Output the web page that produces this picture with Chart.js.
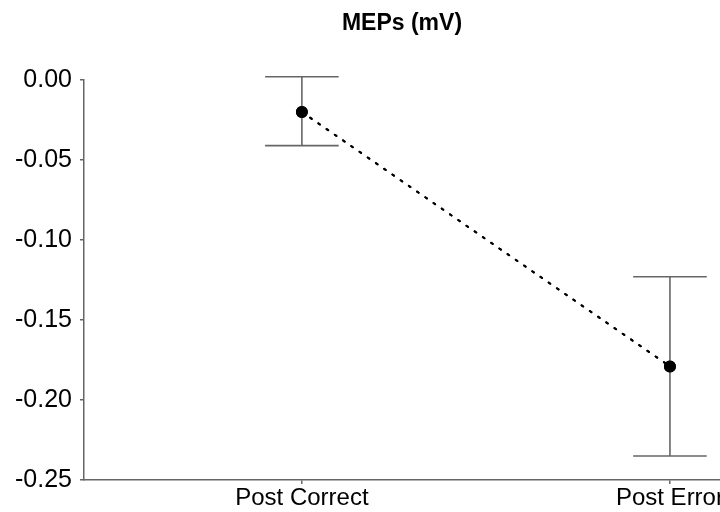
<!DOCTYPE html>
<html>
<head>
<meta charset="utf-8">
<script src="https://cdn.jsdelivr.net/npm/chart.js@4.4.0/dist/chart.umd.min.js"></script>
<style>
    html, body { margin: 0; padding: 0; background: #fff; overflow: hidden; }
    #wrap { width: 720px; height: 512px; }
</style>
</head>
<body>
<div id="wrap"><canvas id="chart1" width="720" height="512"></canvas></div>
<script>
// conditions and MEP values (mV)
var categories = ['Post Correct', 'Post Error'];
var means = [-0.020, -0.179];
var errLow = [-0.041, -0.235];
var errHigh = [0.002, -0.123];
var yTicks = [0.00, -0.05, -0.10, -0.15, -0.20, -0.25];

var points = [];
for(var i = 0; i < means.length; i++){
    points.push({x: i, y: means[i]});
}

// vertical error bars with caps, drawn through the chart scales
var errorBars = {
    id: 'errorBars',
    afterDatasetsDraw: function(chart){
        var ctx = chart.ctx;
        var xs = chart.scales.x;
        var ys = chart.scales.y;
        ctx.save();
        ctx.strokeStyle = '#666666';
        ctx.lineWidth = 1.6;
        for(var i = 0; i < means.length; i++){
            var px = xs.getPixelForValue(i);
            var top = ys.getPixelForValue(errHigh[i]);
            var bot = ys.getPixelForValue(errLow[i]);
            var half = xs.getPixelForValue(i + 0.1) - px;
            ctx.beginPath();
            ctx.moveTo(px, top); ctx.lineTo(px, bot);
            ctx.moveTo(px - half, top); ctx.lineTo(px + half, top);
            ctx.moveTo(px - half, bot); ctx.lineTo(px + half, bot);
            ctx.stroke();
        }
        ctx.restore();
        // redraw the points on top of the bars
        chart.getDatasetMeta(0).controller.draw();
    }
};

var ctx = document.getElementById('chart1').getContext('2d');
var myChart = new Chart(ctx, {
    type: 'line',
    data: {
        datasets: [{
            label: 'MEPs',
            data: points,
            borderColor: '#000',
            borderWidth: 2,
            borderDash: [2, 8],
            borderCapStyle: 'round',
            pointRadius: 5,
            pointBackgroundColor: '#000',
            pointBorderColor: '#000',
            clip: false
        }]
    },
    options: {
        responsive: false,
        animation: false,
        layout: { padding: 0, autoPadding: false },
        plugins: {
            legend: { display: false },
            tooltip: { enabled: false },
            title: {
                display: true,
                text: 'MEPs (mV)',
                fullSize: false,
                color: '#000',
                font: { family: 'Liberation Sans, Arial, sans-serif', size: 23, weight: 'bold' },
                padding: { top: 10, bottom: 42.4 }
            }
        },
        scales: {
            x: {
                type: 'linear',
                min: -0.592,
                max: 1.136,
                afterBuildTicks: function(scale){
                    scale.ticks = categories.map(function(c, i){ return {value: i}; });
                },
                afterFit: function(scale){
                    scale.paddingLeft = 0;
                    scale.paddingRight = 0;
                    scale.height = 32;
                },
                ticks: {
                    callback: function(v){ return categories[v]; },
                    color: '#000',
                    padding: 0,
                    maxRotation: 0,
                    font: { family: 'Liberation Sans, Arial, sans-serif', size: 24 }
                },
                grid: { drawOnChartArea: false, tickLength: 4, color: '#666', lineWidth: 1.5 },
                border: { color: '#666', width: 1.5 }
            },
            y: {
                min: -0.25,
                max: 0,
                afterBuildTicks: function(scale){
                    scale.ticks = yTicks.map(function(v){ return {value: v}; });
                },
                afterFit: function(scale){
                    scale.width = 84;
                },
                ticks: {
                    callback: function(v){ return v.toFixed(2); },
                    color: '#000',
                    padding: 8,
                    font: { family: 'Liberation Sans, Arial, sans-serif', size: 25 }
                },
                grid: { drawOnChartArea: false, tickLength: 4, color: '#666', lineWidth: 1.5 },
                border: { color: '#666', width: 1.5 }
            }
        }
    },
    plugins: [errorBars]
});
</script>
</body>
</html>
